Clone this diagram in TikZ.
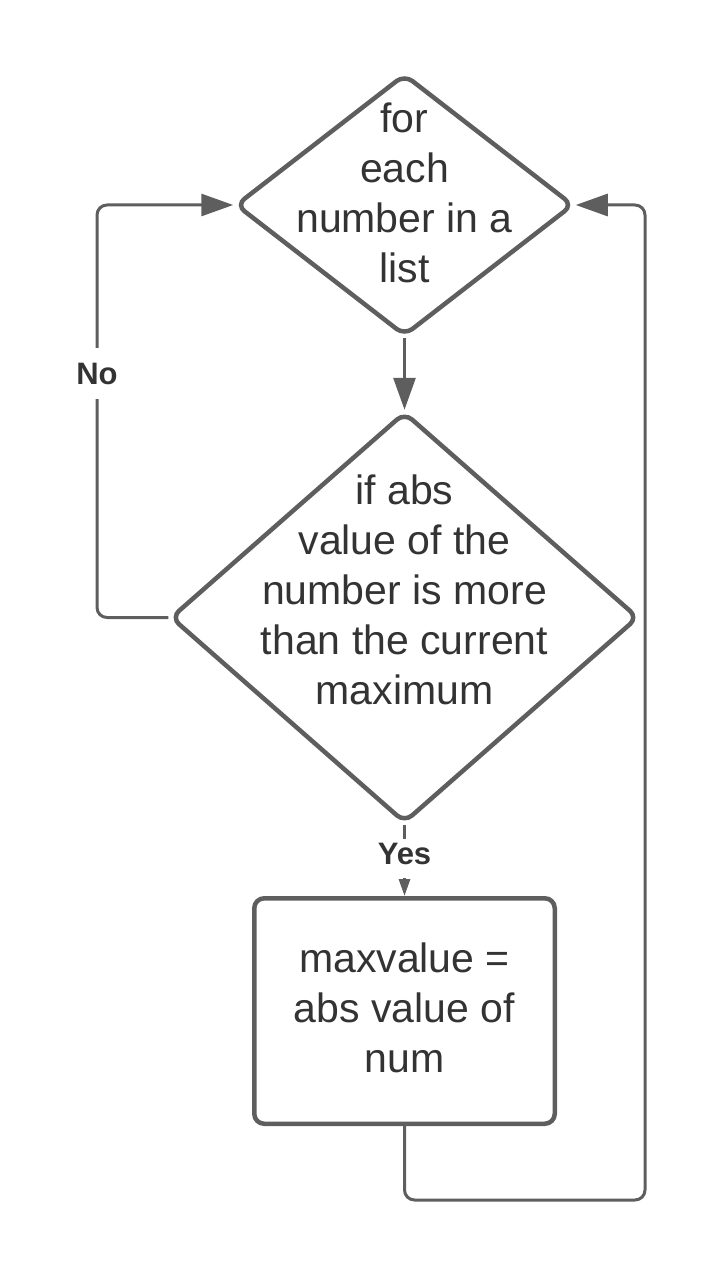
\documentclass[tikz,border=0pt]{standalone}
\usepackage{fontspec}
\setmainfont{Liberation Sans}
\usetikzlibrary{shapes.geometric,arrows.meta}
\definecolor{ln}{HTML}{5E5E5E}
\definecolor{tx}{HTML}{333333}
\begin{document}
\begin{tikzpicture}[x=1pt,y=-1pt,
 shp/.style={draw=ln, line width=4.5pt, rounded corners=10pt, inner sep=0pt},
 dia/.style={shp, diamond},
 box/.style={shp, rectangle, rounded corners=10pt},
 lbl/.style={text=tx, align=center, inner sep=0pt, font=\fontsize{41}{50}\selectfont},
 conn/.style={draw=ln, line width=3pt, rounded corners=10pt},
 big/.style={-{Triangle[length=32pt,width=22pt]}},
 small/.style={-{Triangle[length=17pt,width=11pt]}},
 tag/.style={text=tx, font=\bfseries\fontsize{31}{36}\selectfont, fill=white, inner xsep=2pt, inner ysep=0pt, anchor=base}
]
\useasboundingbox (0,0) rectangle (722,1281);
\node[dia, minimum width=338pt, minimum height=262pt] (d1) at (404.5,205) {};
\node[dia, minimum width=468pt, minimum height=411pt] (d2) at (404.5,617.5) {};
\node[box, minimum width=300.5pt, minimum height=225.5pt] (bx) at (404.5,1011) {};
\node[lbl] (t1) at (404.5,193) {for\\each\\number in a\\list};
\node[lbl] (t2) at (404.5,590) {if abs\\value of the\\number is more\\than the current\\maximum};
\node[lbl] (t3) at (404.5,1008) {maxvalue =\\abs value of\\num};
\coordinate (l1) at (97,617.5);
\coordinate (r1) at (404.5,1200);
\coordinate (r2) at (645,1200);
\draw[conn,big] (d1.south) -- (d2.north);
\draw[conn,big] (d2.west) -- (l1) |- (d1.west);
\draw[conn,big] (bx.south) -- (r1) -- (r2) |- (d1.east);
\draw[conn,small] (d2.south) -- (bx.north);
\node[tag, text height=36.75pt, text depth=14.25pt] (no) at (97,384.75) {No};
\node[tag, text height=25.25pt, text depth=13.75pt] (yes) at (404.5,864.25) {Yes};
\end{tikzpicture}
\end{document}
